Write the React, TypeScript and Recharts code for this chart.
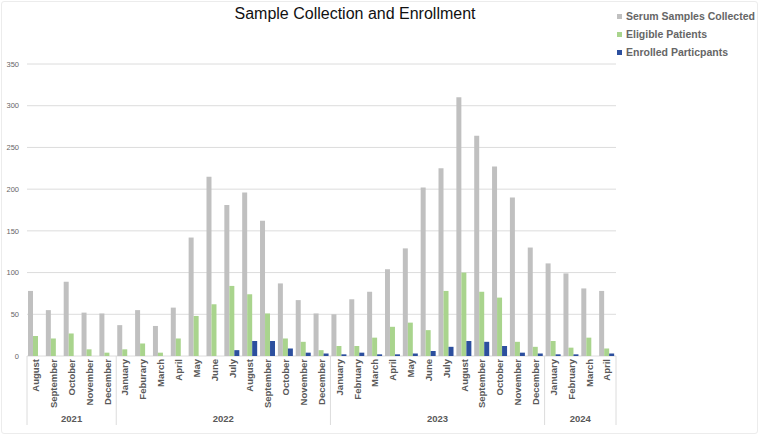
import React from 'react';
import { BarChart, Bar, XAxis, YAxis, CartesianGrid, Legend } from 'recharts';

const months = [
  'August', 'September', 'October', 'November', 'December',
  'January', 'Feburary', 'March', 'April', 'May', 'June', 'July', 'August', 'September', 'October', 'November', 'December',
  'January', 'February', 'March', 'April', 'May', 'June', 'July', 'August', 'September', 'October', 'November', 'December',
  'January', 'February', 'March', 'April',
];
const serumCollected = [
  78, 55, 89, 52, 51,
  37, 55, 36, 58, 142, 215, 181, 196, 162, 87, 67, 51,
  50, 68, 77, 104, 129, 202, 225, 310, 264, 227, 190, 130,
  111, 99, 81, 78,
];
const eligiblePatients = [
  24, 21, 27, 8, 4,
  8, 15, 4, 21, 48, 62, 84, 74, 51, 21, 17, 7,
  12, 12, 22, 35, 40, 31, 78, 100, 77, 70, 17, 11,
  18, 10, 22, 9,
];
const enrolledParticipants = [
  0, 0, 0, 0, 0,
  0, 0, 0, 0, 0, 0, 7, 18, 18, 9, 4, 3,
  2, 4, 2, 2, 3, 6, 11, 18, 17, 12, 4, 3,
  2, 2, 0, 3,
];
const years = ['2021', '2022', '2023', '2024'];
const monthsPerYear = [5, 12, 12, 4];
const yTicks = [0, 50, 100, 150, 200, 250, 300, 350];

const series = [
  { key: 'serum', name: 'Serum Samples Collected', color: '#c0c0c0' },
  { key: 'eligible', name: 'Eligible Patients', color: '#a9d48d' },
  { key: 'enrolled', name: 'Enrolled Particpants', color: '#2c4f9e' },
];

const data = months.map((month, i) => ({
  month,
  serum: serumCollected[i],
  eligible: eligiblePatients[i],
  enrolled: enrolledParticipants[i],
}));

// index of the first month of each year group
const yearStarts = monthsPerYear.map((_, i) => monthsPerYear.slice(0, i).reduce((a, b) => a + b, 0));

const FONT = '"Liberation Sans", Arial, Helvetica, sans-serif';
const LINE = '#dcdcdc';

const MonthTick = (props: any) => {
  const { x, y, payload } = props;
  const idx: number = payload.index;
  const half: number = payload.offset || 8.9;
  const g = yearStarts.indexOf(idx);
  const last = idx === months.length - 1;
  return (
    <g>
      <text
        transform={`translate(${x},${y + 3}) rotate(-90)`}
        textAnchor="end"
        dy="0.35em"
        fontFamily={FONT}
        fontSize={9.5}
        fontWeight="bold"
        fill="#595959"
      >
        {payload.value}
      </text>
      {g >= 0 && (
        <>
          <line x1={x - half} x2={x - half} y1={y} y2={y + 69} stroke={LINE} />
          <text
            x={x - half + monthsPerYear[g] * half}
            y={y + 66}
            textAnchor="middle"
            fontFamily={FONT}
            fontSize={9.5}
            fontWeight="bold"
            fill="#595959"
          >
            {years[g]}
          </text>
        </>
      )}
      {last && <line x1={x + half} x2={x + half} y1={y} y2={y + 69} stroke={LINE} />}
    </g>
  );
};

const LegendBox = () => (
  <div style={{ fontFamily: FONT, fontSize: 10.5, fontWeight: 'bold', color: '#666' }}>
    {series.map((s) => (
      <div key={s.key} style={{ display: 'flex', alignItems: 'center', height: 18 }}>
        <span style={{ width: 5, height: 5, background: s.color, marginRight: 4, display: 'inline-block' }} />
        {s.name}
      </div>
    ))}
  </div>
);

export default function App() {
  return (
    <div style={{ position: 'absolute', left: 0, top: 0, width: 760, height: 436, background: '#fff' }}>
      <div
        style={{
          position: 'absolute', left: 1, top: 1, width: 757, height: 433,
          border: '1px solid #ececec', borderRadius: 3, boxSizing: 'border-box',
        }}
      />
      <div
        style={{
          position: 'absolute', left: 0, top: 5, width: 710, textAlign: 'center',
          fontFamily: FONT, fontSize: 16, color: '#111',
        }}
      >
        Sample Collection and Enrollment
      </div>
      <BarChart
        width={760}
        height={436}
        data={data}
        margin={{ top: 64, right: 144, bottom: 0, left: 0 }}
        barGap={0}
        barCategoryGap={2}
      >
        <CartesianGrid vertical={false} stroke={LINE} strokeWidth={1} />
        <XAxis
          dataKey="month"
          interval={0}
          height={80}
          axisLine={false}
          tickLine={false}
          tickSize={0}
          tickMargin={0}
          tick={<MonthTick />}
        />
        <YAxis
          width={27}
          domain={[0, 350]}
          ticks={yTicks}
          axisLine={false}
          tickLine={false}
          tickSize={0}
          tickMargin={8}
          tick={{ fontFamily: FONT, fontSize: 7.5, fill: '#666' }}
        />
        <Legend
          layout="vertical"
          align="center"
          verticalAlign="middle"
          wrapperStyle={{ left: 617, top: 7, width: 143 }}
          content={<LegendBox />}
        />
        {series.map((s) => (
          <Bar key={s.key} dataKey={s.key} name={s.name} fill={s.color} barSize={5} isAnimationActive={false} />
        ))}
      </BarChart>
    </div>
  );
}
